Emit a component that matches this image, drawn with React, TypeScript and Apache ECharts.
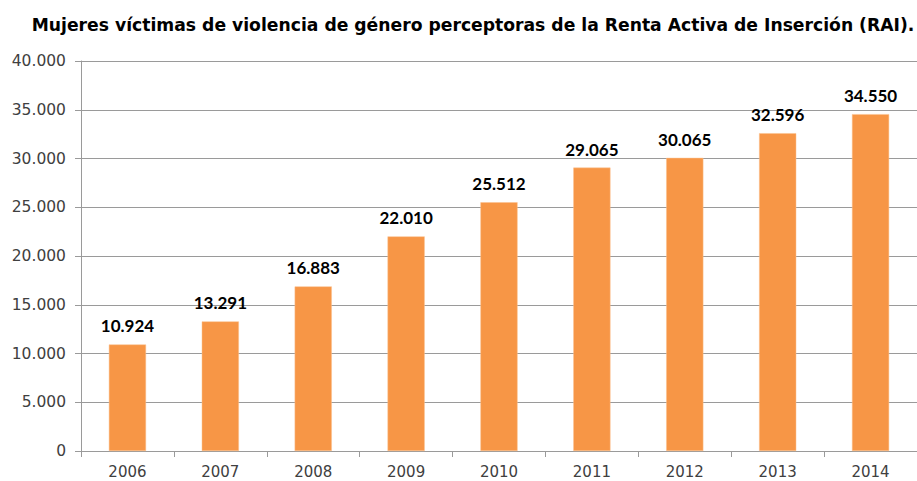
import React, { useEffect, useRef } from "react";
import * as echarts from "echarts";

const years = ["2006", "2007", "2008", "2009", "2010", "2011", "2012", "2013", "2014"];
const women = [10924, 13291, 16883, 22010, 25512, 29065, 30065, 32596, 34550];
const titleText = "Mujeres víctimas de violencia de género perceptoras de la Renta Activa de Inserción (RAI).";

const fmt = (v: number) => {
  const s = String(Math.round(v));
  return s.replace(/\B(?=(\d{3})+(?!\d))/g, ".");
};

export default function App() {
  const ref = useRef<HTMLDivElement>(null);
  useEffect(() => {
    document.body.style.margin = "0";
    const chart = echarts.init(ref.current!, null, { renderer: "svg" });
    chart.setOption({
      animation: false,
      backgroundColor: "#ffffff",
      title: {
        text: titleText,
        left: 468,
        textAlign: "center",
        top: 11,
        textStyle: { fontFamily: "DejaVu Sans", fontWeight: "bold", fontSize: 17.2, color: "#000" },
      },
      grid: { left: 81, right: -1, top: 61, bottom: 30, containLabel: false },
      xAxis: {
        type: "category",
        data: years,
        axisLine: { lineStyle: { color: "#9a9a9a", width: 1 } },
        axisTick: { show: true, length: 6, lineStyle: { color: "#9a9a9a" } },
        axisLabel: { color: "#404040", fontFamily: "DejaVu Sans", fontSize: 15, margin: 13 },
        splitLine: { show: false },
      },
      yAxis: {
        type: "value",
        min: 0,
        max: 40000,
        interval: 5000,
        axisLine: { show: true, lineStyle: { color: "#9a9a9a", width: 1 } },
        axisTick: { show: true, length: 6, lineStyle: { color: "#9a9a9a" } },
        axisLabel: { color: "#404040", fontFamily: "DejaVu Sans", fontSize: 15.5, margin: 15, formatter: (v: number) => fmt(v) },
        splitLine: { show: true, lineStyle: { color: "#9a9a9a", width: 1 } },
      },
      series: [
        {
          type: "bar",
          data: women,
          barWidth: "40%",
          itemStyle: { color: "#F79646", borderColor: "#FAC08F", borderWidth: 0.5 },
          label: {
            show: true,
            position: "top",
            distance: 10,
            formatter: (p: any) => fmt(p.value),
            fontFamily: "Lato",
            fontWeight: "bold",
            fontSize: 17,
            color: "#000",
          },
        },
      ],
    });
    return () => chart.dispose();
  }, []);
  return <div ref={ref} style={{ width: 917, height: 481 }} />;
}
